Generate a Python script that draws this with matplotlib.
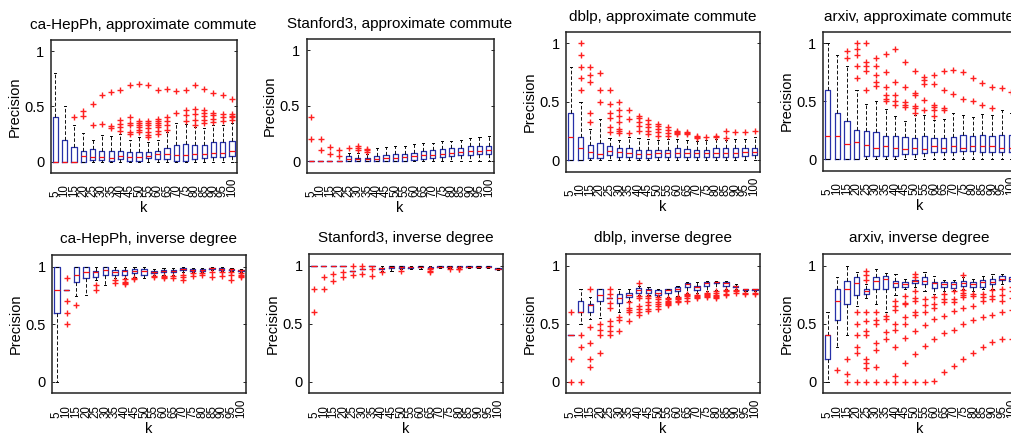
import numpy as np
import matplotlib
matplotlib.use("Agg")
import matplotlib.pyplot as plt

plt.rcParams['font.family'] = ['Liberation Sans', 'DejaVu Sans']

k_values = [5, 10, 15, 20, 25, 30, 35, 40, 45, 50, 55, 60, 65, 70, 75, 80, 85, 90, 95, 100]

# (lower whisker, q1, median, q3, upper whisker) per k
hep_ac_box = [(0, 0, 0, 0.40, 0.80), (0, 0, 0, 0.20, 0.50), (0, 0, 0, 0.135, 0.33), (0, 0, 0.05, 0.10, 0.26),
              (0, 0.015, 0.04, 0.11, 0.20), (0, 0.015, 0.04, 0.10, 0.24), (0, 0.01, 0.03, 0.10, 0.23),
              (0, 0.02, 0.05, 0.10, 0.25), (0, 0.01, 0.04, 0.09, 0.20), (0, 0.01, 0.04, 0.09, 0.22),
              (0, 0.03, 0.05, 0.09, 0.18), (0, 0.02, 0.07, 0.10, 0.20), (0, 0.02, 0.07, 0.12, 0.27),
              (0, 0.01, 0.06, 0.15, 0.35), (0, 0.01, 0.06, 0.16, 0.34), (0, 0.02, 0.07, 0.15, 0.31),
              (0, 0.03, 0.07, 0.15, 0.30), (0, 0.04, 0.08, 0.18, 0.33), (0, 0.04, 0.08, 0.18, 0.33),
              (0, 0.05, 0.10, 0.19, 0.35)]
hep_ac_out = [[], [], [0.40], [0.46, 0.41], [0.52, 0.33], [0.60, 0.34], [0.63, 0.32, 0.30],
              [0.65, 0.38, 0.34, 0.31, 0.28], [0.69, 0.40, 0.35, 0.33, 0.27, 0.25],
              [0.70, 0.37, 0.35, 0.33, 0.31, 0.29, 0.27], [0.69, 0.37, 0.35, 0.33, 0.30, 0.27, 0.24, 0.22],
              [0.65, 0.39, 0.37, 0.35, 0.33, 0.31, 0.28, 0.25], [0.66, 0.40, 0.37, 0.33, 0.29], [0.64, 0.44],
              [0.65, 0.47, 0.42, 0.37], [0.69, 0.48, 0.43, 0.38, 0.33], [0.66, 0.47, 0.44, 0.41, 0.38, 0.35],
              [0.62, 0.44, 0.42, 0.39, 0.36], [0.60, 0.43, 0.40, 0.37], [0.57, 0.43, 0.41, 0.40, 0.38]]

stan_ac_box = [(0, 0, 0, 0, 0), (0, 0, 0, 0, 0), (0, 0, 0, 0, 0), (0, 0, 0, 0, 0),
               (0, 0, 0.02, 0.045, 0.08), (0, 0, 0.02, 0.035, 0.08), (0, 0, 0.02, 0.03, 0.07),
               (0, 0, 0.02, 0.045, 0.12), (0, 0, 0.03, 0.06, 0.13), (0, 0, 0.03, 0.07, 0.14),
               (0, 0.005, 0.04, 0.07, 0.14), (0, 0.01, 0.05, 0.08, 0.16), (0, 0.02, 0.06, 0.09, 0.17),
               (0, 0.03, 0.06, 0.10, 0.17), (0, 0.04, 0.07, 0.11, 0.18), (0, 0.05, 0.08, 0.12, 0.18),
               (0, 0.06, 0.085, 0.12, 0.19), (0, 0.06, 0.09, 0.14, 0.21), (0, 0.065, 0.09, 0.14, 0.22),
               (0, 0.07, 0.10, 0.14, 0.23)]
stan_ac_out = [[0.40, 0.20], [0.20, 0.10], [0.133, 0.067], [0.10, 0.05], [0.12], [0.14, 0.125, 0.10],
               [0.115, 0.10, 0.085], [], [], [], [], [], [], [], [], [], [], [], [], []]

dblp_ac_box = [(0, 0, 0.20, 0.40, 0.80), (0, 0, 0.10, 0.20, 0.50), (0, 0.02, 0.067, 0.13, 0.27),
               (0, 0.02, 0.05, 0.15, 0.35), (0, 0.04, 0.08, 0.12, 0.19), (0, 0.03, 0.07, 0.10, 0.17),
               (0, 0.03, 0.06, 0.10, 0.20), (0, 0.02, 0.05, 0.09, 0.19), (0, 0.02, 0.05, 0.09, 0.18),
               (0, 0.03, 0.06, 0.09, 0.17), (0, 0.03, 0.06, 0.09, 0.18), (0, 0.03, 0.06, 0.10, 0.18),
               (0, 0.03, 0.06, 0.095, 0.17), (0, 0.03, 0.06, 0.09, 0.16), (0, 0.03, 0.06, 0.09, 0.17),
               (0, 0.03, 0.06, 0.10, 0.18), (0, 0.03, 0.06, 0.10, 0.17), (0, 0.03, 0.06, 0.10, 0.18),
               (0, 0.035, 0.07, 0.10, 0.18), (0, 0.04, 0.07, 0.10, 0.20)]
dblp_ac_out = [[], [1.0, 0.9, 0.8, 0.7, 0.6], [0.80, 0.73, 0.67, 0.40, 0.33], [0.75, 0.60, 0.50],
               [0.60, 0.48, 0.40, 0.36, 0.28, 0.24], [0.50, 0.43, 0.38, 0.33, 0.27, 0.25, 0.23],
               [0.43, 0.35, 0.23], [0.38, 0.36, 0.33, 0.29, 0.25], [0.34, 0.31, 0.28, 0.25, 0.22],
               [0.31, 0.29, 0.27, 0.24, 0.21], [0.28, 0.26, 0.23, 0.21], [0.25, 0.24, 0.23, 0.22],
               [0.24, 0.23, 0.22], [0.21, 0.20, 0.19], [0.20], [0.21, 0.20], [0.25, 0.19], [0.24], [0.24],
               [0.25]]

arxiv_ac_box = [(0, 0, 0.20, 0.60, 1.0), (0, 0, 0.20, 0.40, 0.90), (0, 0, 0.13, 0.33, 0.80),
                (0, 0, 0.15, 0.25, 0.60), (0, 0.03, 0.12, 0.24, 0.48), (0, 0.03, 0.10, 0.23, 0.50),
                (0, 0.03, 0.11, 0.20, 0.43), (0, 0.03, 0.10, 0.20, 0.37), (0, 0.04, 0.09, 0.19, 0.33),
                (0, 0.04, 0.10, 0.18, 0.38), (0, 0.05, 0.09, 0.20, 0.38), (0, 0.06, 0.11, 0.18, 0.34),
                (0, 0.06, 0.10, 0.18, 0.35), (0, 0.06, 0.11, 0.19, 0.40), (0, 0.07, 0.10, 0.21, 0.38),
                (0, 0.07, 0.11, 0.20, 0.36), (0, 0.06, 0.11, 0.21, 0.39), (0, 0.06, 0.11, 0.20, 0.38),
                (0, 0.06, 0.10, 0.21, 0.42), (0, 0.06, 0.10, 0.21, 0.40)]
arxiv_ac_out = [[], [], [0.93, 0.87], [1.0, 0.95, 0.90, 0.80, 0.70], [1.0, 0.84, 0.80, 0.76, 0.60],
                [0.87, 0.80, 0.73, 0.67, 0.63], [0.91, 0.75, 0.62, 0.55, 0.52, 0.50],
                [0.95, 0.67, 0.55, 0.50, 0.47], [0.84, 0.62, 0.49, 0.47, 0.45],
                [0.76, 0.57, 0.55, 0.46, 0.44, 0.40], [0.71, 0.68, 0.65, 0.51, 0.42],
                [0.73, 0.65, 0.47, 0.45, 0.42, 0.37], [0.76, 0.60, 0.44, 0.42], [0.77, 0.56], [0.75, 0.52],
                [0.70, 0.50], [0.66, 0.47], [0.62, 0.44], [0.61], [0.58]]

hep_id_box = [(0, 0.6, 0.8, 1.0, 1.0), (0.8, 0.8, 0.8, 0.8, 0.8), (0.74, 0.87, 0.93, 1.0, 1.0),
              (0.75, 0.90, 0.95, 1.0, 1.0), (0.88, 0.91, 0.95, 0.96, 1.0), (0.84, 0.93, 0.97, 1.0, 1.0),
              (0.90, 0.93, 0.95, 0.97, 1.0), (0.90, 0.93, 0.96, 0.97, 1.0), (0.91, 0.94, 0.96, 0.98, 1.0),
              (0.90, 0.93, 0.96, 0.98, 1.0), (0.93, 0.94, 0.95, 0.96, 0.98), (0.93, 0.95, 0.96, 0.97, 0.99),
              (0.93, 0.95, 0.96, 0.97, 0.99), (0.95, 0.97, 0.98, 0.99, 1.0), (0.95, 0.96, 0.97, 0.98, 0.99),
              (0.95, 0.96, 0.97, 0.98, 0.99), (0.97, 0.98, 0.99, 0.99, 1.0), (0.96, 0.97, 0.98, 0.99, 1.0),
              (0.96, 0.97, 0.98, 0.98, 0.99), (0.95, 0.96, 0.97, 0.97, 0.98)]
hep_id_out = [[], [0.9, 0.7, 0.6, 0.5], [0.67], [], [0.84, 0.80], [], [0.88, 0.86], [0.89, 0.87, 0.86, 0.85],
              [0.90, 0.89], [], [0.92, 0.91], [0.92, 0.91, 0.90], [0.92, 0.90], [0.93, 0.91, 0.88],
              [0.94, 0.92], [0.94, 0.93], [0.95, 0.91], [0.95, 0.92], [0.95, 0.93, 0.88],
              [0.94, 0.93, 0.92, 0.91]]

stan_id_box = [(1, 1, 1, 1, 1), (1, 1, 1, 1, 1), (1, 1, 1, 1, 1), (1, 1, 1, 1, 1),
               (0.96, 0.96, 0.96, 0.96, 0.96), (0.97, 0.97, 0.97, 0.97, 0.97), (1, 1, 1, 1, 1),
               (0.96, 0.97, 0.98, 0.98, 1.0), (0.96, 0.98, 0.99, 1.0, 1.0), (0.97, 0.98, 0.99, 1.0, 1.0),
               (0.97, 0.98, 0.99, 0.99, 1.0), (0.97, 0.99, 0.99, 1.0, 1.0), (0.98, 0.98, 0.98, 0.99, 1.0),
               (0.98, 0.99, 0.99, 1.0, 1.0), (0.98, 0.99, 0.99, 1.0, 1.0), (0.98, 0.99, 0.99, 1.0, 1.0),
               (0.98, 0.99, 0.99, 1.0, 1.0), (0.985, 0.99, 0.99, 1.0, 1.0), (0.98, 0.99, 0.99, 1.0, 1.0),
               (0.965, 0.97, 0.975, 0.98, 0.98)]
stan_id_out = [[0.8, 0.6], [0.9, 0.8], [0.93, 0.87], [0.95, 0.90], [1.0, 0.92], [1.0, 0.93], [0.97, 0.91],
               [0.95], [], [0.96], [], [], [0.97, 0.96, 0.95], [], [0.97], [0.975, 0.97], [], [], [], []]

dblp_id_box = [(0.4, 0.4, 0.4, 0.4, 0.4), (0.5, 0.6, 0.6, 0.7, 0.8), (0.54, 0.60, 0.665, 0.67, 0.73),
               (0.55, 0.70, 0.75, 0.80, 0.80), (0.72, 0.72, 0.72, 0.72, 0.72), (0.6, 0.68, 0.72, 0.76, 0.8),
               (0.7, 0.73, 0.75, 0.77, 0.8), (0.75, 0.77, 0.79, 0.81, 0.83), (0.75, 0.77, 0.79, 0.80, 0.82),
               (0.74, 0.75, 0.77, 0.79, 0.80), (0.73, 0.77, 0.79, 0.80, 0.80), (0.74, 0.78, 0.80, 0.82, 0.83),
               (0.77, 0.82, 0.84, 0.85, 0.86), (0.77, 0.79, 0.82, 0.83, 0.86), (0.78, 0.83, 0.85, 0.86, 0.87),
               (0.79, 0.85, 0.86, 0.86, 0.87), (0.80, 0.83, 0.85, 0.86, 0.87), (0.80, 0.82, 0.83, 0.83, 0.84),
               (0.78, 0.79, 0.80, 0.80, 0.80), (0.78, 0.79, 0.80, 0.80, 0.80)]
dblp_id_out = [[0.6, 0.2, 0.0], [0.4, 0.3, 0.0], [0.8, 0.47, 0.33, 0.2, 0.13], [0.5, 0.45, 0.4, 0.25],
               [0.8, 0.76, 0.68, 0.64, 0.52, 0.48, 0.44, 0.40], [0.56, 0.53, 0.44],
               [0.69, 0.64, 0.62, 0.60, 0.52], [0.85, 0.74, 0.72, 0.65, 0.63, 0.60, 0.58],
               [0.74, 0.72, 0.69, 0.66, 0.63, 0.61], [0.73, 0.71, 0.69, 0.67, 0.65, 0.63],
               [0.72, 0.71, 0.70, 0.69, 0.68, 0.67, 0.66], [0.73, 0.72, 0.71, 0.70, 0.69],
               [0.76, 0.75, 0.74, 0.72, 0.70], [0.75, 0.74, 0.73, 0.72], [0.77, 0.76, 0.75, 0.74, 0.73],
               [0.78, 0.77, 0.75, 0.74, 0.73, 0.72], [0.79, 0.78, 0.76, 0.75], [0.79, 0.78, 0.77],
               [0.77, 0.76], [0.77, 0.76]]

arxiv_id_box = [(0, 0.2, 0.4, 0.4, 0.6), (0.3, 0.53, 0.7, 0.8, 0.9), (0.4, 0.67, 0.8, 0.87, 1.0),
                (0.65, 0.75, 0.85, 0.9, 0.95), (0.72, 0.76, 0.78, 0.8, 0.84), (0.67, 0.8, 0.87, 0.9, 0.97),
                (0.6, 0.8, 0.89, 0.91, 0.94), (0.75, 0.82, 0.85, 0.87, 0.93), (0.8, 0.82, 0.84, 0.86, 0.89),
                (0.82, 0.85, 0.87, 0.88, 0.9), (0.78, 0.84, 0.87, 0.9, 0.95), (0.76, 0.81, 0.85, 0.86, 0.91),
                (0.78, 0.82, 0.84, 0.86, 0.88), (0.79, 0.81, 0.84, 0.86, 0.88), (0.8, 0.83, 0.85, 0.87, 0.9),
                (0.78, 0.82, 0.84, 0.86, 0.89), (0.8, 0.82, 0.86, 0.88, 0.91), (0.8, 0.84, 0.86, 0.89, 0.93),
                (0.84, 0.88, 0.89, 0.91, 0.93), (0.84, 0.87, 0.89, 0.9, 0.92)]
arxiv_id_out = [[], [0.1], [0.2, 0.07, 0.0], [0.6, 0.5, 0.4, 0.3, 0.25, 0.0],
                [0.96, 0.92, 0.88, 0.6, 0.52, 0.44, 0.4, 0.2, 0.16, 0.12, 0.0],
                [0.6, 0.53, 0.5, 0.33, 0.27, 0.13, 0.0], [0.57, 0.54, 0.43, 0.37, 0.0],
                [0.7, 0.65, 0.62, 0.5, 0.45, 0.3, 0.05, 0.0], [0.74, 0.68, 0.67, 0.56, 0.5, 0.38, 0.16, 0.0],
                [0.93, 0.9, 0.78, 0.72, 0.7, 0.6, 0.58, 0.44, 0.24, 0.0], [0.71, 0.66, 0.6, 0.49, 0.31, 0.0],
                [0.73, 0.67, 0.64, 0.54, 0.37, 0.01], [0.76, 0.71, 0.69, 0.57, 0.42, 0.08],
                [0.78, 0.71, 0.69, 0.61, 0.45, 0.14], [0.92, 0.79, 0.77, 0.75, 0.73, 0.64, 0.5, 0.2],
                [0.76, 0.74, 0.65, 0.53, 0.25], [0.76, 0.73, 0.7, 0.56, 0.3], [0.79, 0.74, 0.71, 0.58, 0.34],
                [0.8, 0.75, 0.7, 0.6, 0.37], [0.82, 0.78, 0.72, 0.62, 0.37]]

titles = ["ca-HepPh, approximate commute", "Stanford3, approximate commute",
          "dblp, approximate commute", "arxiv, approximate commute",
          "ca-HepPh, inverse degree", "Stanford3, inverse degree",
          "dblp, inverse degree", "arxiv, inverse degree"]
panels = [(hep_ac_box, hep_ac_out), (stan_ac_box, stan_ac_out), (dblp_ac_box, dblp_ac_out),
          (arxiv_ac_box, arxiv_ac_out), (hep_id_box, hep_id_out), (stan_id_box, stan_id_out),
          (dblp_id_box, dblp_id_out), (arxiv_id_box, arxiv_id_out)]

W, H = 1011, 438
# axes rects in pixels: left, top, width, height
rects = [(50.7, 40, 186, 132.7), (306.5, 39.3, 187, 133.3), (566, 31.7, 193.5, 140), (822.7, 31.7, 193.5, 139),
         (52, 255, 194, 138.3), (309.3, 254.3, 193.4, 139), (566, 254.3, 194, 139), (822.7, 254.3, 194, 139)]

fig = plt.figure(figsize=(W / 100, H / 100), dpi=100)

for i in range(8):
    l, t, w, h = rects[i]
    ax = fig.add_axes([l / W, 1 - (t + h) / H, w / W, h / H])
    boxes, outs = panels[i]
    stats = []
    for (lo, q1, med, q3, hi), fl in zip(boxes, outs):
        stats.append(dict(whislo=lo, q1=q1, med=med, q3=q3, whishi=hi, fliers=fl))
    ax.bxp(stats, positions=range(1, 21), widths=0.55, capwidths=0.22,
           boxprops=dict(color='#2630a8', linewidth=0.9),
           medianprops=dict(color='#ff1010', linewidth=0.9),
           whiskerprops=dict(color='black', linewidth=0.65, linestyle=(0, (4, 2.2))),
           capprops=dict(color='black', linewidth=0.7),
           flierprops=dict(marker='+', markersize=3.8, markeredgecolor='#ff2020', markeredgewidth=1.0,
                           linestyle='none'))
    ax.set_xlim(0.5, 20.5)
    ax.set_ylim(-0.1, 1.1)
    ax.set_yticks([0, 0.5, 1])
    ax.set_yticklabels(['0', '0.5', '1'])
    ax.set_xticks(range(1, 21))
    ax.set_xticklabels([str(v) for v in k_values], rotation=90, va='bottom', fontsize=8.3)
    ax.tick_params(axis='x', length=0, pad=17.5)
    ax.tick_params(axis='y', direction='in', length=2.5, right=True, labelsize=10.5, pad=4.5, width=0.6)
    for s in ax.spines.values():
        s.set_linewidth(1.1)
        s.set_color('#222222')
    ax.set_ylabel('Precision', fontsize=10.5, labelpad=2)
    ax.set_xlabel('k', fontsize=10.5, labelpad=3)
    ax.set_title(titles[i], fontsize=11, pad=8 if i < 4 else 9)

fig.savefig('out.png', dpi=100)
